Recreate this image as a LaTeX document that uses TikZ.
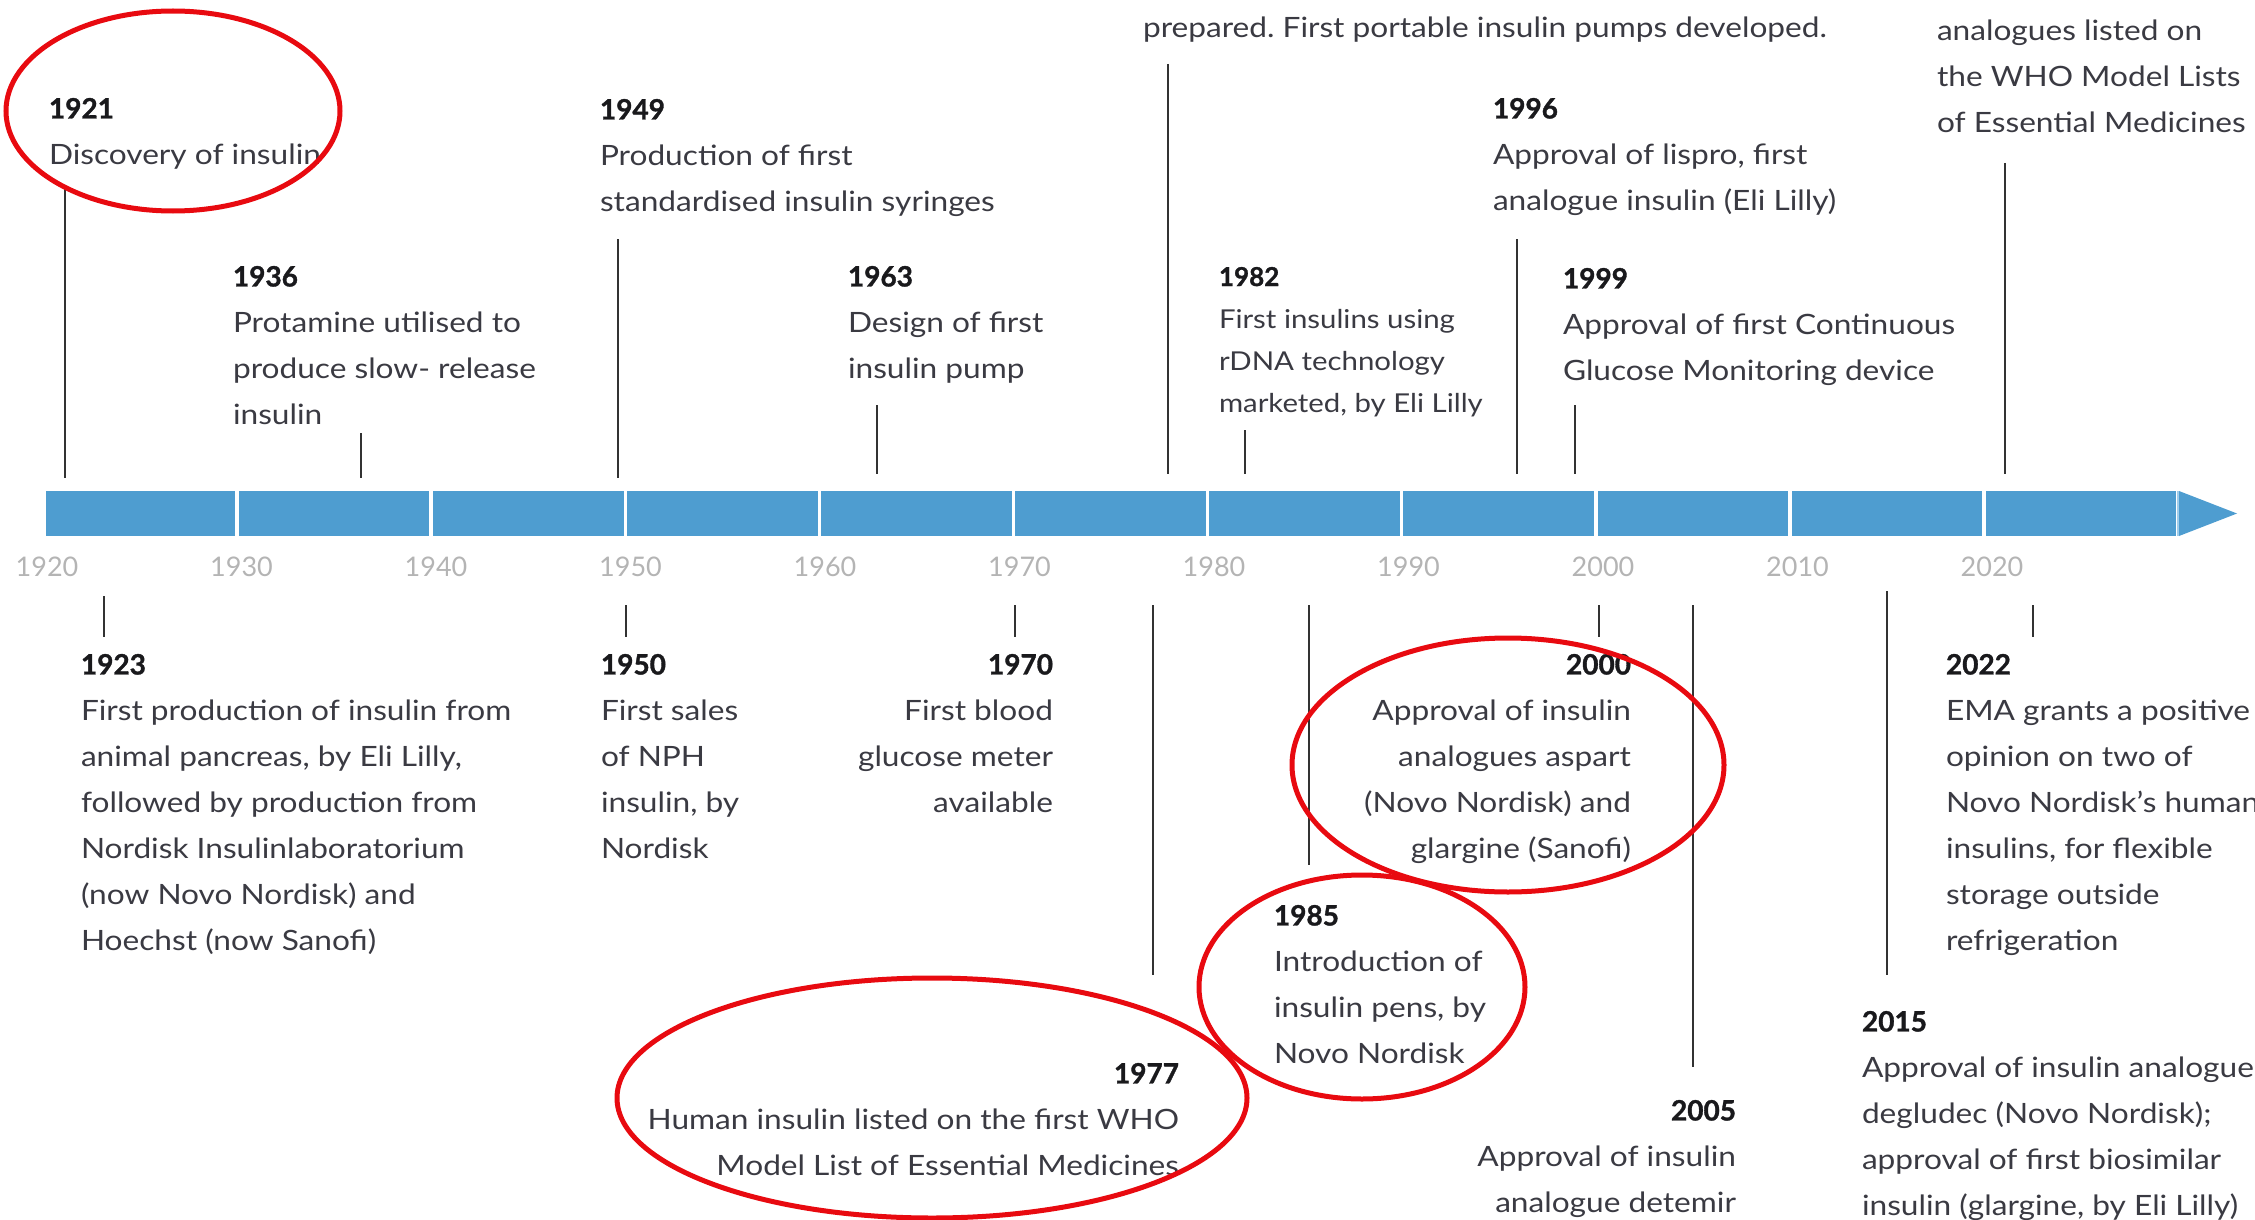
\documentclass[tikz,border=0pt]{standalone}
\usepackage{fontspec}
\setmainfont{Lato}[FakeStretch=1.13]
\newfontfamily\yearfont{Lato}[BoldFeatures={FakeBold=1.2}]
\frenchspacing
\definecolor{barblue}{RGB}{78,157,208}
\definecolor{barlight}{RGB}{160,205,235}
\definecolor{bodygray}{RGB}{58,58,66}
\definecolor{yeargray}{RGB}{25,25,28}
\definecolor{stemgray}{RGB}{50,50,50}
\definecolor{decgray}{RGB}{180,180,180}
\definecolor{annred}{RGB}{232,10,16}
\newcommand\yr[1]{{\yearfont\bfseries\color{yeargray}#1}}
\tikzset{
 ev/.style={inner sep=0pt, outer sep=0pt, text=bodygray, font=\fontsize{28}{46}\selectfont},
 evl/.style={ev, align=left, anchor=north west},
 evr/.style={ev, align=right, anchor=north east},
 stem/.style={draw=stemgray, line width=2pt},
 decade/.style={text=decgray, font=\yearfont\fontsize{27}{27}\selectfont, inner sep=0pt},
 ring/.style={draw=annred, line width=5pt},
 divider/.style={draw=white, line width=3.5pt},
}
\begin{document}
\begin{tikzpicture}[x=1pt,y=-1pt]
\useasboundingbox (0,0) rectangle (2255,1220);
% ---- bar ----
\fill[barblue] (46,491) rectangle (2176,536);
\fill[barblue] (2179,491) -- (2237,513.5) -- (2179,536) -- cycle;
\draw[barlight, line width=2pt] (2177.5,491) -- (2177.5,536);
\foreach \k in {1,...,10} {
  \draw[divider] ({43+\k*194.1},491) -- ({43+\k*194.1},536);
}
\foreach \k/\y in {0/1920,1/1930,2/1940,3/1950,4/1960,5/1970,6/1980,7/1990,8/2000,9/2010,10/2020} {
  \node[decade] (d\y) at ({47+\k*194.5},567) {\y};
}
% ---- top events ----
\node[evl] (e1921) at (49,98) {\yr{1921}\\Discovery of insulin};
\coordinate (s1921a) at (65,187); \coordinate (s1921b) at (65,478);
\draw[stem] (s1921a) -- (s1921b);

\node[evl] (e1936) at (233,266) {\yr{1936}\\Protamine utilised to\\produce slow- release\\insulin};
\coordinate (s1936a) at (361,433); \coordinate (s1936b) at (361,478);
\draw[stem] (s1936a) -- (s1936b);

\node[evl] (e1949) at (600,99) {\yr{1949}\\Production of first\\standardised insulin syringes};
\coordinate (s1949a) at (618,239); \coordinate (s1949b) at (618,478);
\draw[stem] (s1949a) -- (s1949b);

\node[evl] (e1963) at (848,266) {\yr{1963}\\Design of first\\insulin pump};
\coordinate (s1963a) at (877,405); \coordinate (s1963b) at (877,474);
\draw[stem] (s1963a) -- (s1963b);

\node[ev, anchor=base west] (e1978) at (1143,38) {prepared. First portable insulin pumps developed.};
\coordinate (s1978a) at (1168,64); \coordinate (s1978b) at (1168,474);
\draw[stem] (s1978a) -- (s1978b);

\node[evl, font=\fontsize{26}{42}\selectfont] (e1982) at (1219,267) {\yr{1982}\\First insulins using\\rDNA technology\\marketed, by Eli Lilly};
\coordinate (s1982a) at (1245,430); \coordinate (s1982b) at (1245,474);
\draw[stem] (s1982a) -- (s1982b);

\node[evl] (e1996) at (1493,98) {\yr{1996}\\Approval of lispro, first\\analogue insulin (Eli Lilly)};
\coordinate (s1996a) at (1517,239); \coordinate (s1996b) at (1517,474);
\draw[stem] (s1996a) -- (s1996b);

\node[evl] (e1999) at (1563,268) {\yr{1999}\\Approval of first Continuous\\Glucose Monitoring device};
\coordinate (s1999a) at (1575,405); \coordinate (s1999b) at (1575,474);
\draw[stem] (s1999a) -- (s1999b);

\node[evl] (e2021) at (1937,19.5) {analogues listed on\\the WHO Model Lists\\of Essential Medicines};
\coordinate (s2021a) at (2005,163); \coordinate (s2021b) at (2005,474);
\draw[stem] (s2021a) -- (s2021b);
% ---- bottom events ----
\coordinate (s1923a) at (104,596); \coordinate (s1923b) at (104,637);
\draw[stem] (s1923a) -- (s1923b);
\node[evl] (e1923) at (81,654) {\yr{1923}\\First production of insulin from\\animal pancreas, by Eli Lilly,\\followed by production from\\Nordisk Insulinlaboratorium\\(now Novo Nordisk) and\\Hoechst (now Sanofi)};

\coordinate (s1950a) at (626,605); \coordinate (s1950b) at (626,637);
\draw[stem] (s1950a) -- (s1950b);
\node[evl] (e1950) at (601,654) {\yr{1950}\\First sales\\of NPH\\insulin, by\\Nordisk};

\coordinate (s1970a) at (1015,605); \coordinate (s1970b) at (1015,637);
\draw[stem] (s1970a) -- (s1970b);
\node[evr] (e1970) at (1053,654) {\yr{1970}\\First blood\\glucose meter\\available};

\coordinate (s1977a) at (1153,605); \coordinate (s1977b) at (1153,975);
\draw[stem] (s1977a) -- (s1977b);
\node[evr] (e1977) at (1179,1063) {\yr{1977}\\Human insulin listed on the first WHO\\Model List of Essential Medicines};

\coordinate (s1985a) at (1309,605); \coordinate (s1985b) at (1309,865);
\draw[stem] (s1985a) -- (s1985b);
\node[evl] (e1985) at (1274,905) {\yr{1985}\\Introduction of\\insulin pens, by\\Novo Nordisk};

\coordinate (s2000a) at (1599,605); \coordinate (s2000b) at (1599,637);
\draw[stem] (s2000a) -- (s2000b);
\node[evr] (e2000) at (1631,654) {\yr{2000}\\Approval of insulin\\analogues aspart\\(Novo Nordisk) and\\glargine (Sanofi)};

\coordinate (s2005a) at (1693,605); \coordinate (s2005b) at (1693,1067);
\draw[stem] (s2005a) -- (s2005b);
\node[evr] (e2005) at (1736,1100) {\yr{2005}\\Approval of insulin\\analogue detemir};

\coordinate (s2015a) at (1887,591); \coordinate (s2015b) at (1887,975);
\draw[stem] (s2015a) -- (s2015b);
\node[evl] (e2015) at (1862,1011) {\yr{2015}\\Approval of insulin analogue\\degludec (Novo Nordisk);\\approval of first biosimilar\\insulin (glargine, by Eli Lilly)};

\coordinate (s2022a) at (2033,605); \coordinate (s2022b) at (2033,637);
\draw[stem] (s2022a) -- (s2022b);
\node[evl] (e2022) at (1946,654) {\yr{2022}\\EMA grants a positive\\opinion on two of\\Novo Nordisk’s human\\insulins, for flexible\\storage outside\\refrigeration};
% ---- red annotation rings ----
\draw[ring] (173,111) ellipse [x radius=167, y radius=100];
\draw[ring] (1508,765) ellipse [x radius=216, y radius=127];
\draw[ring] (1362,987) ellipse [x radius=163, y radius=112];
\draw[ring] (932,1098) ellipse [x radius=315, y radius=120];
\end{tikzpicture}
\end{document}
